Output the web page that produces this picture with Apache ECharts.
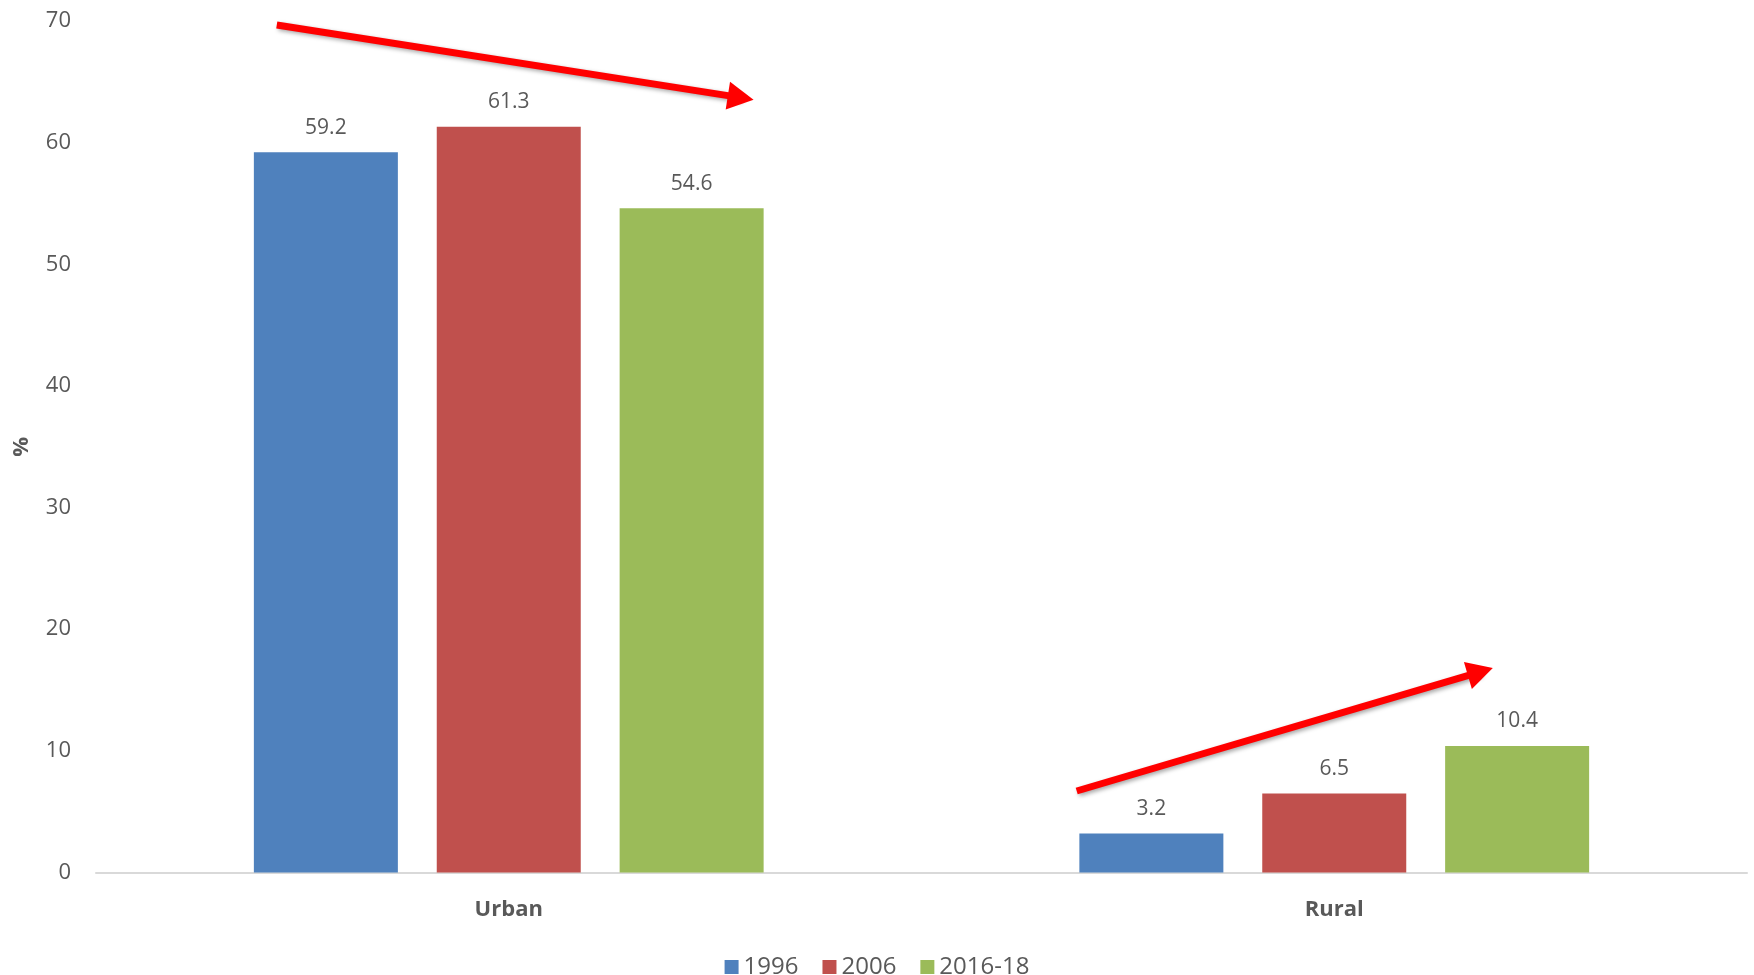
<!DOCTYPE html>
<html>
<head>
<meta charset="utf-8">
<title>Urban and rural shares</title>
<script src="https://cdn.jsdelivr.net/npm/echarts@6/dist/echarts.min.js"></script>
<style>
  html, body { margin: 0; padding: 0; background: #ffffff; }
  #chart { width: 1754px; height: 975px; }
</style>
</head>
<body>
<div id="chart"></div>
<script>
// Categories and series values
const categories = ['Urban', 'Rural'];
const seriesNames = ['1996', '2006', '2016-18'];
const values1996 = [59.2, 3.2];
const values2006 = [61.3, 6.5];
const values2016 = [54.6, 10.4];
const seriesColors = ['#4F81BD', '#C0504D', '#9BBB59'];

// Y axis ticks
const yTicks = { min: 0, max: 70, interval: 10 };

// Trend arrows in data space: [x (category index position), y (%)]
const trendArrows = [
  [[-0.281, 69.67], [0.281, 63.7]],
  [[0.688, 6.70], [1.177, 16.5]]
];

const textColor = '#595959';
const fontFamily = '"Open Sans", "Noto Sans", sans-serif';

const chart = echarts.init(document.getElementById('chart'), null, { renderer: 'canvas' });

const valueSets = [values1996, values2006, values2016];

const barSeries = seriesNames.map((name, i) => ({
  name: name,
  type: 'bar',
  xAxisIndex: 0,
  yAxisIndex: 0,
  data: valueSets[i],
  barWidth: 144,
  barGap: '27%',
  itemStyle: { color: seriesColors[i] },
  label: {
    show: true,
    position: 'top',
    distance: 14,
    color: textColor,
    fontFamily: fontFamily,
    fontSize: 21,
    formatter: (p) => p.value.toFixed(1)
  },
  emphasis: { disabled: true }
}));

const arrowSeries = {
  name: 'trend',
  type: 'line',
  xAxisIndex: 1,
  yAxisIndex: 0,
  data: [],
  silent: true,
  markLine: {
    silent: true,
    animation: false,
    symbol: ['none', 'triangle'],
    symbolSize: [28, 26],
    label: { show: false },
    lineStyle: {
      color: '#FF0000',
      width: 7,
      type: 'solid',
      shadowColor: 'rgba(0,0,0,0.35)',
      shadowBlur: 4,
      shadowOffsetX: 2,
      shadowOffsetY: 2
    },
    emphasis: { disabled: true },
    data: trendArrows.map(([a, b]) => [{ coord: a }, { coord: b }])
  }
};

const option = {
  backgroundColor: '#ffffff',
  animation: false,
  textStyle: { fontFamily: fontFamily, color: textColor },
  grid: {
    left: 96, right: 7, top: 21, bottom: 102.5,
    containLabel: false,
    outerBoundsMode: 'none'
  },
  legend: {
    data: seriesNames,
    top: 950,
    left: 'center',
    itemWidth: 14,
    itemHeight: 14,
    itemGap: 24,
    icon: 'rect',
    textStyle: { color: textColor, fontSize: 24, fontFamily: fontFamily },
    selectedMode: false
  },
  xAxis: [
    {
      type: 'category',
      data: categories,
      boundaryGap: true,
      axisLine: { show: true, lineStyle: { color: '#D9D9D9', width: 2 } },
      axisTick: { show: false },
      axisLabel: {
        margin: 26,
        color: textColor,
        fontFamily: fontFamily,
        fontSize: 22,
        fontWeight: 'bold'
      },
      splitLine: { show: false }
    },
    {
      type: 'value',
      min: -0.5,
      max: 1.5,
      show: false
    }
  ],
  yAxis: {
    type: 'value',
    min: yTicks.min,
    max: yTicks.max,
    interval: yTicks.interval,
    name: '%',
    nameLocation: 'middle',
    nameRotate: 90,
    nameGap: 63,
    nameTextStyle: { color: textColor, fontSize: 22, fontWeight: 'bold', fontFamily: fontFamily },
    axisLine: { show: false },
    axisTick: { show: false },
    splitLine: { show: false },
    axisLabel: { margin: 25, color: textColor, fontSize: 22, fontFamily: fontFamily }
  },
  series: [...barSeries, arrowSeries]
};

chart.setOption(option);
</script>
</body>
</html>
